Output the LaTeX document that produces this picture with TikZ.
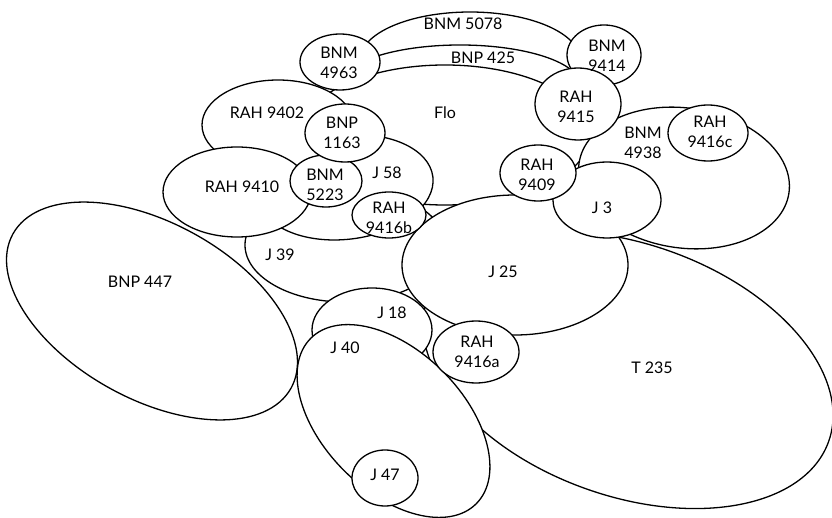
\documentclass[tikz,border=0pt]{standalone}
\usepackage{fontspec}
\setmainfont{Lato}
\begin{document}
\begin{tikzpicture}[x=1pt,y=1pt,yscale=-1,
  blob/.style={draw=black,fill=white,line width=1.3pt},
  lab/.style={font=\fontsize{16}{20}\selectfont,align=center,inner sep=0pt}]
\useasboundingbox (0,0) rectangle (832,518);
\fill[white] (0,0) rectangle (832,518);
% back to front
\draw[blob] (470,60) ellipse [x radius=110, y radius=48];   % BNM 5078
\draw[blob] (460,85) ellipse [x radius=120, y radius=40];   % BNP 425
\draw[blob, shift={(152,311)}, rotate=29] (0,0) ellipse [x radius=159, y radius=88]; % BNP 447
\draw[blob] (345,245) ellipse [x radius=100, y radius=57];  % J 39
\draw[blob] (445,135) ellipse [x radius=145, y radius=70];  % Flo
\draw[blob, shift={(684,178)}, rotate=8] (0,0) ellipse [x radius=106, y radius=70]; % BNM 4938
\draw[blob, shift={(345.5,187.3)}, rotate=-6.8] (0,0) ellipse [x radius=88, y radius=52]; % J 58
\draw[blob] (278,125) ellipse [x radius=76, y radius=45];   % RAH 9402
\draw[blob] (340,62) ellipse [x radius=40, y radius=28];    % BNM 4963
\draw[blob] (604,55) ellipse [x radius=37, y radius=30];    % BNM 9414
\draw[blob] (578,104) ellipse [x radius=43, y radius=36];   % RAH 9415
\draw[blob] (708,133) ellipse [x radius=40, y radius=28];   % RAH 9416c
\draw[blob] (237,192) ellipse [x radius=74, y radius=45];   % RAH 9410
\draw[blob] (326,181) ellipse [x radius=36, y radius=26];   % BNM 5223
\draw[blob] (345,133) ellipse [x radius=40, y radius=29];   % BNP 1163
\draw[blob, shift={(628,370)}, rotate=19.6] (0,0) ellipse [x radius=213, y radius=126]; % T 235
\draw[blob] (515,265) ellipse [x radius=113, y radius=70];  % J 25
\draw[blob] (389,215) ellipse [x radius=37, y radius=23];   % RAH 9416b
\draw[blob] (607,200) ellipse [x radius=54, y radius=38];   % J 3
\draw[blob] (538,173) ellipse [x radius=38, y radius=28];   % RAH 9409
\draw[blob] (372,330) ellipse [x radius=60, y radius=42];   % J 18
\draw[blob, shift={(393.5,421)}, rotate=45] (0,0) ellipse [x radius=117, y radius=70]; % J 40
\draw[blob] (476,352) ellipse [x radius=43, y radius=31];   % RAH 9416a
\draw[blob] (385,478) ellipse [x radius=33, y radius=28];   % J 47
% labels
\node[lab] (t5078) at (463,24) {BNM 5078};
\node[lab] (t425) at (483,58) {BNP 425};
\node[lab] (t4963) at (339,63) {BNM\\4963};
\node[lab] (t9414) at (607,56) {BNM\\9414};
\node[lab] (t9415) at (576,107) {RAH\\9415};
\node[lab] (tflo) at (445,113) {Flo};
\node[lab] (t9402) at (267,113) {RAH 9402};
\node[lab] (t1163) at (342,133) {BNP\\1163};
\node[lab] (t9410) at (242,187) {RAH 9410};
\node[lab] (t5223) at (325,185) {BNM\\5223};
\node[lab] (t58) at (387,173) {J 58};
\node[lab] (t9416b) at (389,218) {RAH\\9416b};
\node[lab] (t9409) at (537,175) {RAH\\9409};
\node[lab] (t4938) at (643,143) {BNM\\4938};
\node[lab] (t9416c) at (710,132) {RAH\\9416c};
\node[lab] (t3) at (602,208) {J 3};
\node[lab] (t39) at (280,255) {J 39};
\node[lab] (t25) at (503,272) {J 25};
\node[lab] (t447) at (140,282) {BNP 447};
\node[lab] (t18) at (392,313) {J 18};
\node[lab] (t9416a) at (477,352) {RAH\\9416a};
\node[lab] (t40) at (345,348) {J 40};
\node[lab] (t235) at (652,368) {T 235};
\node[lab] (t47) at (385,475) {J 47};
\end{tikzpicture}
\end{document}
